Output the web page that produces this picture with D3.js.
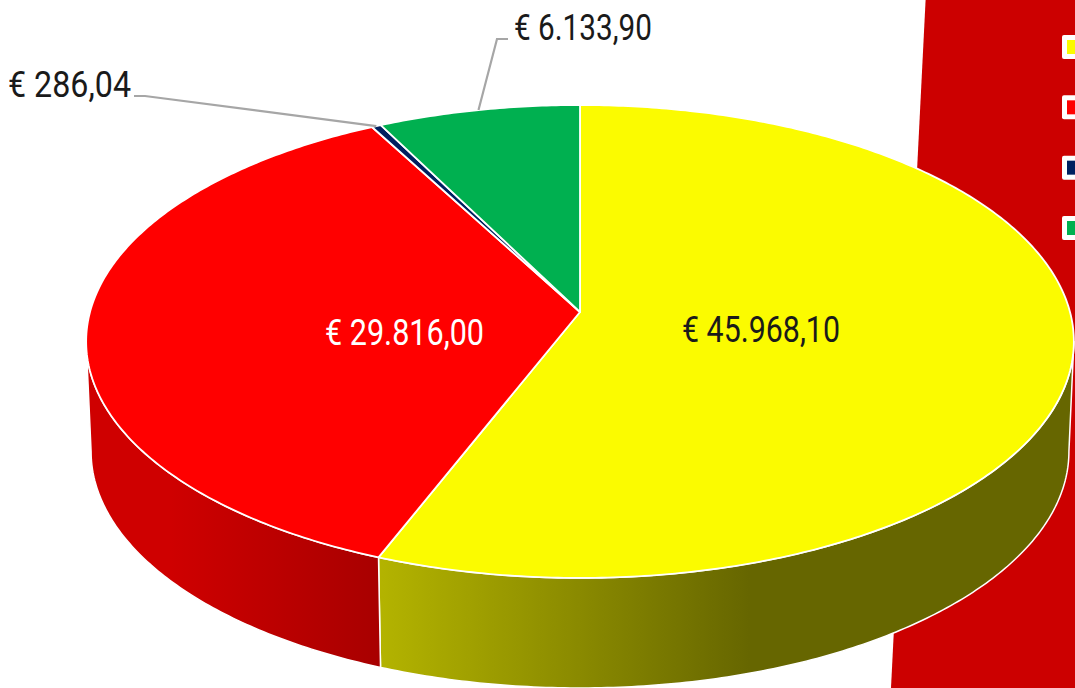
<!DOCTYPE html>
<html>
<head>
<meta charset="utf-8">
<script src="https://cdn.jsdelivr.net/npm/d3@7"></script>
<style>
html, body { margin: 0; padding: 0; background: #fff; overflow: hidden; }
svg { display: block; }
text { font-family: "Liberation Sans Narrow", "Roboto", sans-serif; font-size: 36px; }
</style>
</head>
<body>
<svg id="chart" width="1075" height="688"></svg>
<script>
// values as printed on the slice labels, clockwise from 12 o'clock
const sliceIds = ['a', 'b', 'c', 'd'];
const sliceValues = [45968.10, 29816.00, 286.04, 6133.90];
const sliceColors = ['#fbfb00', '#ff0000', '#002060', '#00b050'];
const labelColors = ['#1a1a1a', '#ffffff', '#1a1a1a', '#1a1a1a'];

var width = 1075, height = 688;
var svg = d3.select('#chart');
var defs = svg.append('defs');

// the original is a tilted 3D pie, so the disc goes through a small perspective
var cx = 580, cy = 312;
var radiusX = 490, radiusY = 232.8, persp = 0.1247;
var depth = 110, baseScale = 0.99;

// angles where the disc outline is widest, the wall stops there
var wallFrom = Math.acos(-persp), wallTo = 2 * Math.PI - wallFrom;

function project(angle, r, isBase) {
    var u = r * Math.sin(angle), v = -r * Math.cos(angle);
    var w = 1 - persp * v;
    return [
        cx + (isBase ? baseScale : 1) * radiusX * u / w,
        cy + (isBase ? depth : 0) + radiusY * v / w
    ];
}

function arcPoints(a0, a1, isBase) {
    var n = Math.max(2, Math.ceil((a1 - a0) * 90));
    return d3.range(n + 1).map(i => project(a0 + (a1 - a0) * i / n, 1, isBase));
}

var line = d3.line();
var euro = d3.formatLocale({ decimal: ',', thousands: '.', grouping: [3], currency: ['€ ', ''] }).format('$,.2f');
var slices = d3.pie().sort(null).value(d => d)(sliceValues);

// red panel behind the pie
svg.append('path')
    .attr('d', line([[925.6, 0], [width, 0], [width, height], [891, height]]))
    .attr('fill', '#cc0000');

// legend swatches, cut off by the right edge like the original
var legendY = d3.scalePoint().domain(sliceIds).range([47, 228]);
var legend = svg.selectAll('.legend').data(sliceIds).enter().append('g')
    .attr('class', 'legend')
    .attr('transform', d => 'translate(1062,' + (legendY(d) - 12) + ')');
legend.append('rect').attr('width', 30).attr('height', 24).attr('rx', 2).attr('fill', '#fff');
legend.append('rect').attr('x', 5).attr('y', 5).attr('width', 25).attr('height', 14)
    .attr('fill', (d, i) => sliceColors[i]);

// shaded wall gradients
function wallGradient(id, x1, x2, from, to) {
    var g = defs.append('linearGradient').attr('id', id)
        .attr('gradientUnits', 'userSpaceOnUse')
        .attr('x1', x1).attr('x2', x2).attr('y1', 0).attr('y2', 0);
    g.append('stop').attr('offset', 0).attr('stop-color', from);
    g.append('stop').attr('offset', 1).attr('stop-color', to);
}
wallGradient('wall0', 382, 750, '#b3b300', '#666600');
wallGradient('wall1', 170, 380, '#cf0000', '#a80000');

// walls first, the top face covers the joint
svg.selectAll('.wall').data(slices.slice(0, 2)).enter().append('path')
    .attr('class', 'wall')
    .attr('d', function(d) {
        var a0 = Math.max(d.startAngle, wallFrom), a1 = Math.min(d.endAngle, wallTo);
        return line(arcPoints(a0, a1, false).concat(arcPoints(a0, a1, true).reverse())) + 'Z';
    })
    .attr('fill', (d, i) => 'url(#wall' + i + ')')
    .attr('stroke', '#fff')
    .attr('stroke-width', 1.5)
    .attr('stroke-linejoin', 'round');

// top face
svg.selectAll('.slice').data(slices).enter().append('path')
    .attr('class', 'slice')
    .attr('d', d => line([[cx, cy]].concat(arcPoints(d.startAngle, d.endAngle, false))) + 'Z')
    .attr('fill', (d, i) => sliceColors[i])
    .attr('stroke', '#fff')
    .attr('stroke-width', 1.8)
    .attr('stroke-linejoin', 'round');

// leader lines for the two small slices
var leaderEnds = { 2: [[145, 96], [134, 96]], 3: [[497, 39], [508, 39]] };
Object.keys(leaderEnds).forEach(function(k) {
    var s = slices[k];
    var anchor = project((s.startAngle + s.endAngle) / 2, 1, false);
    svg.append('path')
        .attr('d', line([anchor].concat(leaderEnds[k])))
        .attr('fill', 'none')
        .attr('stroke', '#a6a6a6')
        .attr('stroke-width', 2.2);
});

// labels, textLength keeps the narrow look of the original face
var labelPos = [[682, 342, 158], [325, 345, 159], [8, 97, 123], [514, 40, 138]];
svg.selectAll('.label').data(slices).enter().append('text')
    .attr('class', 'label')
    .attr('x', (d, i) => labelPos[i][0])
    .attr('y', (d, i) => labelPos[i][1])
    .attr('textLength', (d, i) => labelPos[i][2])
    .attr('lengthAdjust', 'spacingAndGlyphs')
    .attr('fill', (d, i) => labelColors[i])
    .text(d => euro(d.data));
</script>
</body>
</html>
